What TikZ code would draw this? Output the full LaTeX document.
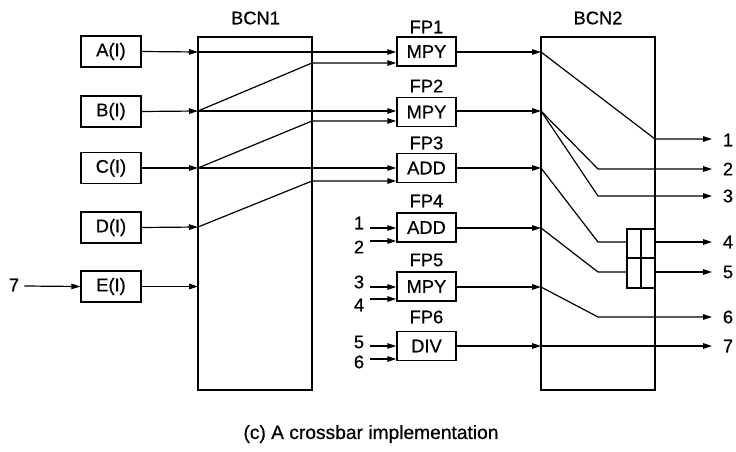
\documentclass[tikz,border=0pt]{standalone}
\usepackage{fontspec}
\setmainfont{Liberation Sans}
\newfontfamily\heavyfont[FakeBold=0.6]{Liberation Sans}
\usetikzlibrary{arrows.meta}
\begin{document}
\begin{tikzpicture}[x=1pt,y=-1pt,
  lbl/.style={font=\heavyfont\fontsize{18.3}{20}\selectfont, inner sep=0pt},
  inbox/.style={draw, line width=1.4pt, minimum width=60pt, minimum height=31pt, inner sep=0pt, lbl},
  fpbox/.style={draw, line width=1.4pt, minimum width=59pt, minimum height=29pt, inner sep=0pt, lbl},
  bigbox/.style={draw, line width=1.4pt, minimum width=114pt, minimum height=353pt, inner sep=0pt},
  conn/.style={line width=1.2pt},
  arr/.style={conn, -{Triangle[length=9pt,width=5.5pt]}},
  grid/.style={line width=1.4pt}
]
\useasboundingbox (0,0) rectangle (736,452);

% input boxes
\node[inbox] (A) at (111,51.5) {A(I)};
\node[inbox] (B) at (111,111.5) {B(I)};
\node[inbox] (C) at (111,168) {C(I)};
\node[inbox] (D) at (111,227.5) {D(I)};
\node[inbox] (E) at (111,286.5) {E(I)};
\node[lbl] (in7) at (14,285) {7};

% crossbar networks
\node[bigbox] (BCN1) at (255,213.5) {};
\node[bigbox] (BCN2) at (598,213.5) {};
\node[lbl] at (255.5,18) {BCN1};
\node[lbl] at (598,18) {BCN2};

% functional pipes
\node[fpbox] (FP1) at (426.5,51.5) {MPY};
\node[fpbox] (FP2) at (426.5,112) {MPY};
\node[fpbox] (FP3) at (426.5,168) {ADD};
\node[fpbox] (FP4) at (426.5,227.5) {ADD};
\node[fpbox] (FP5) at (426.5,286.5) {MPY};
\node[fpbox] (FP6) at (426.5,346) {DIV};
\node[lbl] at (426.5,27) {FP1};
\node[lbl] at (426.5,86) {FP2};
\node[lbl] at (426.5,143) {FP3};
\node[lbl] at (426.5,201) {FP4};
\node[lbl] at (426.5,260) {FP5};
\node[lbl] at (426.5,317) {FP6};

% inputs 1-6 to FP4-FP6
\node[lbl] (i1) at (359,223) {1};
\node[lbl] (i2) at (359,247) {2};
\node[lbl] (i3) at (359,282) {3};
\node[lbl] (i4) at (359,305) {4};
\node[lbl] (i5) at (359,342) {5};
\node[lbl] (i6) at (359,362) {6};

% coordinates on BCN1
\coordinate (La) at (198,52);
\coordinate (Lb) at (198,111);
\coordinate (Lc) at (198,168);
\coordinate (Ld) at (198,227);
\coordinate (Le) at (198,286.5);
\coordinate (Rb) at (312,63);
\coordinate (Rc) at (312,121);
\coordinate (Rd) at (312,181);

% into BCN1
\draw[arr] (in7.east) ++(5,1) -- (E.west);
\draw[arr] (A.east) -- (La);
\draw[arr] (B.east) -- (Lb);
\draw[arr] (C.east) -- (Lc);
\draw[arr] (D.east) -- (Ld);
\draw[arr] (E.east) -- (Le);

% through BCN1
\draw[arr] (La) -- (La -| FP1.west);
\draw[arr] (Lb) -- (Lb -| FP2.west);
\draw[arr] (Lc) -- (Lc -| FP3.west);
\draw[arr] (Lb) -- (Rb) -- (Rb -| FP1.west);
\draw[arr] (Lc) -- (Rc) -- (Rc -| FP2.west);
\draw[arr] (Ld) -- (Rd) -- (Rd -| FP3.west);

% inputs to FP4-6
\draw[arr] (370,228) -- (FP4.west |- 0,228);
\draw[arr] (370,241) -- (FP4.west |- 0,241);
\draw[arr] (370,287) -- (FP5.west |- 0,287);
\draw[arr] (370,299) -- (FP5.west |- 0,299);
\draw[arr] (370,346) -- (FP6.west |- 0,346);
\draw[arr] (370,359) -- (FP6.west |- 0,359);

% coordinates on BCN2
\coordinate (P1) at (541,52);
\coordinate (P2) at (541,111);
\coordinate (P3) at (541,168);
\coordinate (P4) at (541,228);
\coordinate (P5) at (541,287);
\coordinate (P6) at (541,346);

\draw[arr] (FP1.east |- P1) -- (P1);
\draw[arr] (FP2.east |- P2) -- (P2);
\draw[arr] (FP3.east |- P3) -- (P3);
\draw[arr] (FP4.east |- P4) -- (P4);
\draw[arr] (FP5.east |- P5) -- (P5);
\draw[arr] (FP6.east |- P6) -- (P6);

% outputs
\node[lbl] (o1) at (728,140) {1};
\node[lbl] (o2) at (728,169) {2};
\node[lbl] (o3) at (728,196) {3};
\node[lbl] (o4) at (728,242) {4};
\node[lbl] (o5) at (728,272) {5};
\node[lbl] (o6) at (728,317) {6};
\node[lbl] (o7) at (728,346) {7};

% small 2x2 switch
\draw[grid] (627,229) rectangle (655,288);
\draw[grid] (641,229) -- (641,288);
\draw[grid] (627,258) -- (655,258);

% through BCN2
\draw[arr] (P1) -- (655,139) -- (712,139);
\draw[arr] (P2) -- (598,169) -- (712,169);
\draw[arr] (P2) -- (598,196) -- (712,196);
\draw[conn] (P3) -- (598,242) -- (627,242);
\draw[arr] (655,242) -- (712,242);
\draw[conn] (P4) -- (598,272) -- (627,272);
\draw[arr] (655,272) -- (712,272);
\draw[arr] (P5) -- (598,317) -- (712,317);
\draw[arr] (P6) -- (712,346);

% caption
\node[lbl, font=\heavyfont\fontsize{19.2}{22}\selectfont] at (371,434) {(c) A crossbar implementation};
\end{tikzpicture}
\end{document}
